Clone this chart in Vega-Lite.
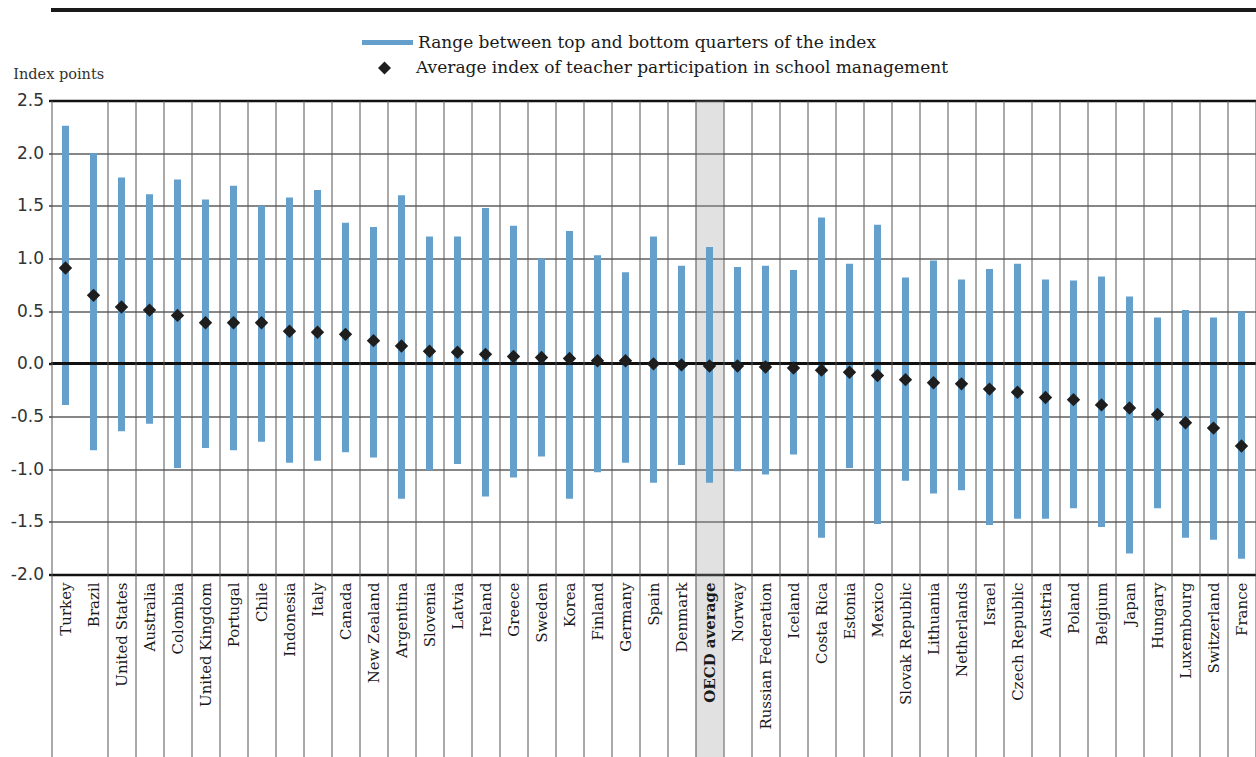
{
  "$schema": "https://vega.github.io/schema/vega-lite/v6.json",
  "width": 1204,
  "height": 474,
  "autosize": {"type": "none"},
  "padding": {"left": 51.5, "top": 100.5, "right": 0, "bottom": 183},
  "background": "white",
  "config": {
    "view": {"stroke": null},
    "font": "DejaVu Serif"
  },
  "data": {
    "values": [
      {"country": "Turkey", "low": -0.39, "high": 2.26, "avg": 0.91},
      {"country": "Brazil", "low": -0.82, "high": 2.0, "avg": 0.65},
      {"country": "United States", "low": -0.64, "high": 1.77, "avg": 0.54},
      {"country": "Australia", "low": -0.57, "high": 1.61, "avg": 0.51},
      {"country": "Colombia", "low": -0.99, "high": 1.75, "avg": 0.46},
      {"country": "United Kingdom", "low": -0.8, "high": 1.56, "avg": 0.39},
      {"country": "Portugal", "low": -0.82, "high": 1.69, "avg": 0.39},
      {"country": "Chile", "low": -0.74, "high": 1.5, "avg": 0.39},
      {"country": "Indonesia", "low": -0.94, "high": 1.58, "avg": 0.31},
      {"country": "Italy", "low": -0.92, "high": 1.65, "avg": 0.3},
      {"country": "Canada", "low": -0.84, "high": 1.34, "avg": 0.28},
      {"country": "New Zealand", "low": -0.89, "high": 1.3, "avg": 0.22},
      {"country": "Argentina", "low": -1.28, "high": 1.6, "avg": 0.17},
      {"country": "Slovenia", "low": -1.01, "high": 1.21, "avg": 0.12},
      {"country": "Latvia", "low": -0.95, "high": 1.21, "avg": 0.11},
      {"country": "Ireland", "low": -1.26, "high": 1.48, "avg": 0.09},
      {"country": "Greece", "low": -1.08, "high": 1.31, "avg": 0.07},
      {"country": "Sweden", "low": -0.88, "high": 1.0, "avg": 0.06},
      {"country": "Korea", "low": -1.28, "high": 1.26, "avg": 0.05},
      {"country": "Finland", "low": -1.03, "high": 1.03, "avg": 0.03},
      {"country": "Germany", "low": -0.94, "high": 0.87, "avg": 0.03},
      {"country": "Spain", "low": -1.13, "high": 1.21, "avg": 0.0},
      {"country": "Denmark", "low": -0.96, "high": 0.93, "avg": -0.01},
      {"country": "OECD average", "low": -1.13, "high": 1.11, "avg": -0.02},
      {"country": "Norway", "low": -1.02, "high": 0.92, "avg": -0.02},
      {"country": "Russian Federation", "low": -1.05, "high": 0.93, "avg": -0.03},
      {"country": "Iceland", "low": -0.86, "high": 0.89, "avg": -0.04},
      {"country": "Costa Rica", "low": -1.65, "high": 1.39, "avg": -0.06},
      {"country": "Estonia", "low": -0.99, "high": 0.95, "avg": -0.08},
      {"country": "Mexico", "low": -1.52, "high": 1.32, "avg": -0.11},
      {"country": "Slovak Republic", "low": -1.11, "high": 0.82, "avg": -0.15},
      {"country": "Lithuania", "low": -1.23, "high": 0.98, "avg": -0.18},
      {"country": "Netherlands", "low": -1.2, "high": 0.8, "avg": -0.19},
      {"country": "Israel", "low": -1.53, "high": 0.9, "avg": -0.24},
      {"country": "Czech Republic", "low": -1.47, "high": 0.95, "avg": -0.27},
      {"country": "Austria", "low": -1.47, "high": 0.8, "avg": -0.32},
      {"country": "Poland", "low": -1.37, "high": 0.79, "avg": -0.34},
      {"country": "Belgium", "low": -1.55, "high": 0.83, "avg": -0.39},
      {"country": "Japan", "low": -1.8, "high": 0.64, "avg": -0.42},
      {"country": "Hungary", "low": -1.37, "high": 0.44, "avg": -0.48},
      {"country": "Luxembourg", "low": -1.65, "high": 0.51, "avg": -0.56},
      {"country": "Switzerland", "low": -1.67, "high": 0.44, "avg": -0.61},
      {"country": "France", "low": -1.85, "high": 0.5, "avg": -0.78}
    ]
  },
  "layer": [
    {
      "transform": [{"filter": "datum.country == 'OECD average'"}],
      "mark": {"type": "rect", "color": "#9a9a9a", "opacity": 0.3},
      "encoding": {
        "x": {"field": "country", "type": "nominal", "sort": null},
        "y": {"datum": 2.5, "type": "quantitative"},
        "y2": {"datum": -3.75}
      }
    },
    {
      "mark": {"type": "bar", "size": 7},
      "encoding": {
        "x": {
          "field": "country",
          "type": "nominal",
          "sort": null,
          "scale": {
            "paddingInner": 0,
            "paddingOuter": 0,
            "domain": ["Turkey", "Brazil", "United States", "Australia", "Colombia", "United Kingdom", "Portugal", "Chile", "Indonesia", "Italy", "Canada", "New Zealand", "Argentina", "Slovenia", "Latvia", "Ireland", "Greece", "Sweden", "Korea", "Finland", "Germany", "Spain", "Denmark", "OECD average", "Norway", "Russian Federation", "Iceland", "Costa Rica", "Estonia", "Mexico", "Slovak Republic", "Lithuania", "Netherlands", "Israel", "Czech Republic", "Austria", "Poland", "Belgium", "Japan", "Hungary", "Luxembourg", "Switzerland", "France"]
          },
          "axis": {
            "title": null,
            "zindex": 1,
            "domain": false,
            "grid": true,
            "tickBand": "extent",
            "gridColor": "#555555",
            "gridWidth": 1,
            "gridOpacity": {"condition": {"test": "datum.value == 'Turkey'", "value": 0}, "value": 1},
            "tickOpacity": {"condition": {"test": "datum.value == 'Turkey'", "value": 0}, "value": 1},
            "tickColor": "#555555",
            "tickWidth": 1,
            "tickSize": 183,
            "labelAngle": 270,
            "labelAlign": "right",
            "labelBaseline": "middle",
            "labelPadding": -175.5,
            "labelFont": "DejaVu Serif",
            "labelFontSize": 15,
            "labelColor": "#1a1a1a",
            "labelLimit": 0,
            "labelFontWeight": {"condition": {"test": "datum.value == 'OECD average'", "value": "bold"}, "value": "normal"}
          }
        },
        "y": {
          "field": "high",
          "type": "quantitative",
          "scale": {"domain": [-2, 2.5], "nice": false, "zero": false},
          "axis": {
            "zindex": 0,
            "values": [-2, -1.5, -1, -0.5, 0, 0.5, 1, 1.5, 2, 2.5],
            "labelExpr": "replace(format(datum.value, '.1f'), '\u2212', '-')",
            "domain": false,
            "grid": true,
            "gridColor": "#111111",
            "gridWidth": {"condition": {"test": "datum.value == 2.5 || datum.value == -2", "value": 2.4}, "value": 1.2},
            "ticks": true,
            "tickSize": 3,
            "tickColor": "#111111",
            "tickWidth": {"condition": {"test": "datum.value == 2.5 || datum.value == -2 || datum.value == 0", "value": 2.4}, "value": 1.2},
            "labelPadding": 5,
            "labelFont": "DejaVu Sans",
            "labelFontSize": 17,
            "labelColor": "#333333",
            "title": "Index points",
            "titleAngle": 0,
            "titleAlign": "left",
            "titleBaseline": "middle",
            "titleX": -38.8,
            "titleY": -26.5,
            "titleFont": "DejaVu Serif",
            "titleFontSize": 14.5,
            "titleFontWeight": "normal",
            "titleColor": "#333333"
          }
        },
        "y2": {"field": "low"},
        "color": {
          "datum": "Range between top and bottom quarters of the index",
          "scale": {"range": ["#659fcc"]},
          "legend": {
            "title": null,
            "orient": "none",
            "legendX": 310.5,
            "legendY": -83.5,
            "padding": 0,
            "symbolType": "M-1,-0.1H1V0.1H-1Z",
            "symbolSize": 2601,
            "symbolStrokeWidth": 0,
            "labelOffset": 5,
            "labelFont": "DejaVu Serif",
            "labelFontSize": 17,
            "labelColor": "#1a1a1a",
            "labelLimit": 0
          }
        }
      }
    },
    {
      "mark": {"type": "rule", "color": "#111111", "strokeWidth": 2.4},
      "encoding": {"y": {"datum": 0, "type": "quantitative"}}
    },
    {
      "mark": {"type": "point", "filled": true, "color": "#1e1e1e", "opacity": 1, "size": 180},
      "encoding": {
        "x": {"field": "country", "type": "nominal", "sort": null},
        "y": {"field": "avg", "type": "quantitative"},
        "shape": {
          "datum": "Average index of teacher participation in school management",
          "scale": {"range": ["diamond"]},
          "legend": {
            "title": null,
            "orient": "none",
            "legendX": 324.5,
            "legendY": -41,
            "padding": 0,
            "symbolSize": 170,
            "symbolFillColor": "#1e1e1e",
            "symbolStrokeWidth": 0,
            "labelOffset": 23,
            "labelFont": "DejaVu Serif",
            "labelFontSize": 17,
            "labelColor": "#1a1a1a",
            "labelLimit": 0
          }
        }
      }
    },
    {
      "mark": {"type": "rule", "color": "#1a1a1a", "strokeWidth": 3},
      "encoding": {"y": {"datum": 3.36, "type": "quantitative"}}
    }
  ]
}
